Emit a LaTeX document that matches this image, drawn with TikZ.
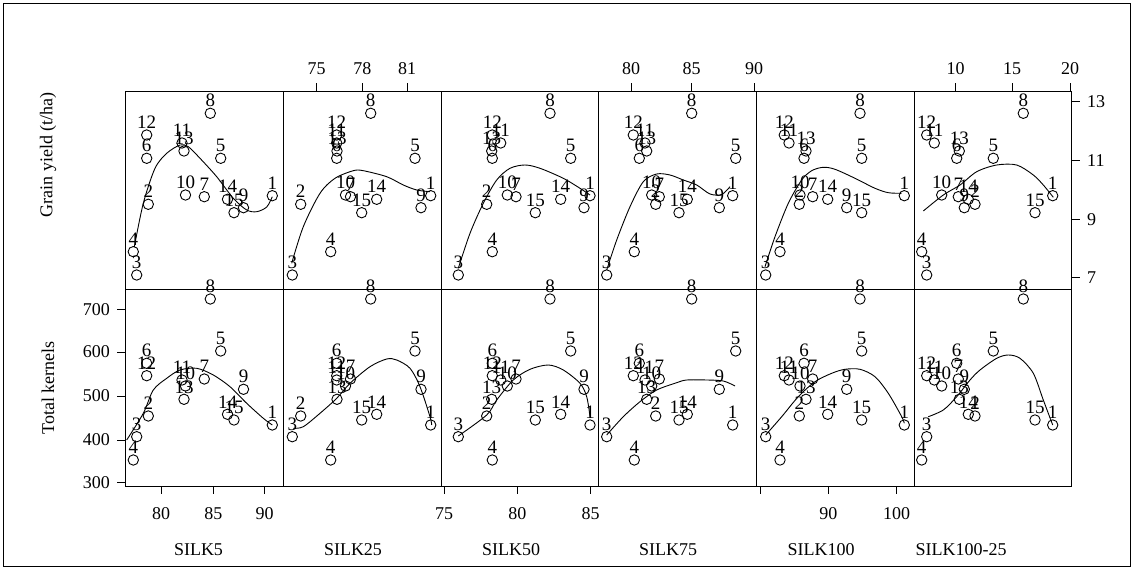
\documentclass[tikz,border=0pt]{standalone}
\usepackage{fontspec}
\setmainfont{Liberation Serif}
\newcommand\gp[9]{%
  \foreach \xx in {#2,#3,#4,#5,#6,#7}{%
    \draw[ptc] (\xx,#8) circle[radius=5.2pt];
    \draw[ptc] (\xx,#9) circle[radius=5.2pt];
    \path (\xx,#8-6.3) node[lab]{#1};
    \path (\xx,#9-6.3) node[lab]{#1};
  }}
\begin{document}
\begin{tikzpicture}[x=1pt,y=-1pt,
  ptc/.style={line width=0.9pt},
  lab/.style={font=\fontsize{19}{19}\selectfont, anchor=base, inner sep=0pt},
  axl/.style={font=\fontsize{18}{18}\selectfont, inner sep=0pt},
  frame/.style={line width=0.9pt},
  fit/.style={line width=0.9pt}]
\useasboundingbox (0,0) rectangle (1133,569);
\draw[line width=0.7pt] (3,3) rectangle (1130,566);
% panels
\foreach \a/\b in {125.5/283,283/441,441/598.5,598.5/756.5,756.5/914,914/1071.5}{
  \draw[frame] (\a,91) rectangle (\b,289);
  \draw[frame] (\a,289) rectangle (\b,486);
}
% points: label, x1..x6, yTop, yBottom
\gp{1}{272.3}{430.7}{590}{732.7}{904.3}{1052.7}{195.7}{425}
\gp{2}{148.3}{300.7}{486.7}{655.7}{799.3}{975}{204.3}{416}
\gp{3}{136.7}{292.3}{458.3}{606.7}{765.7}{926.7}{275}{436.7}
\gp{4}{133.3}{330.7}{492.3}{634.3}{780}{921.7}{251.7}{460}
\gp{5}{220.7}{415}{570.7}{735.7}{861.7}{993.3}{158.3}{351}
\gp{6}{146.7}{336.7}{492.3}{639.3}{804}{956.7}{158.3}{363.3}
\gp{7}{204.3}{350.5}{516}{659.3}{812.7}{958.3}{196.7}{379}
\gp{8}{210.3}{370.7}{550}{691.7}{860}{1023.3}{113.3}{299}
\gp{9}{243.5}{421}{584}{719.3}{846.7}{964.3}{207.7}{389.3}
\gp{10}{185.5}{345.5}{507.3}{651.7}{800}{941.7}{195}{386}
\gp{11}{182}{336.7}{500.7}{645}{789}{934.3}{143}{380}
\gp{12}{146.7}{336.7}{492.3}{633.3}{784.3}{926.7}{135}{375.7}
\gp{13}{184}{337}{491.7}{646.7}{806}{959.3}{151}{399.3}
\gp{14}{227.5}{376.7}{560.7}{687.3}{827.7}{968.3}{199.3}{414.3}
\gp{15}{234}{361.7}{535.3}{679}{861.7}{1035}{212.7}{420}
% fitted curves, top row
\draw[fit] plot[smooth] coordinates {(134.3,247) (143.3,203.3) (155,168.3) (166.7,153.3) (180,145) (188.3,146.7) (200,158.3) (216.7,176.7) (233.3,198.3) (246.7,210) (256.7,211.7) (266.7,207) (272.3,196.7)};
\draw[fit] plot[smooth] coordinates {(291.7,263.3) (303.3,226.7) (320,193.3) (335,178.3) (353.3,170.7) (363.3,170.7) (386.7,176.7) (403.3,185) (416.7,190) (430,191.7)};
\draw[fit] plot[smooth] coordinates {(458.3,268.3) (470,233.3) (483.3,203.3) (496.7,180) (510,168.3) (525,165) (540,168.3) (563.3,178.3) (580,188.3) (590,195)};
\draw[fit] plot[smooth] coordinates {(606.7,270) (616.7,240) (630,206.7) (643.3,181.7) (656.7,174) (670,175) (683.3,180) (696.7,185) (710,194) (721.7,194.5) (730,186.7)};
\draw[fit] plot[smooth] coordinates {(765,266.7) (775,236.7) (788.3,203.3) (801.7,180) (811.7,170.7) (823.3,167.3) (835,169.3) (855,178.3) (875,188.3) (888.3,192.7) (901.7,193.3)};
\draw[fit] plot[smooth] coordinates {(923.3,211) (943.3,195) (960,185) (976.7,171.7) (996.7,165) (1016.7,165) (1033.3,175) (1043.3,185) (1053.3,197.3)};
% fitted curves, bottom row
\draw[fit] plot[smooth] coordinates {(126.7,440) (143.3,413.3) (153.3,390) (166.7,378.3) (180,370) (196.7,368.3) (213.3,375) (230,386.7) (246.7,403.3) (263.3,418.3) (272.3,425)};
\draw[fit] plot[smooth] coordinates {(293.3,428.3) (303.3,426.7) (320,413.3) (336.7,398.3) (350,383.3) (370,366.7) (386.7,359) (396.7,360) (410,368.3) (420,386.7) (430,416.7) (431.7,425)};
\draw[fit] plot[smooth] coordinates {(458.3,436) (486.7,415) (496.7,400) (513.3,380) (530,369.3) (548.3,365) (563.3,370) (580,383.3) (586.7,396.7) (590,416.7)};
\draw[fit] plot[smooth] coordinates {(606.7,435) (623.3,416.7) (640,401.7) (656.7,390) (676.7,382.7) (686.7,380) (706.7,380) (723.3,381) (735,386)};
\draw[fit] plot[smooth] coordinates {(765.7,435) (781.7,416.7) (798.3,396.7) (815,381.7) (831.7,373.3) (845,369.3) (860,369.3) (875,376.7) (888.3,393.3) (901.7,416.7) (904.3,423.3)};
\draw[fit] plot[smooth] coordinates {(928.3,416.7) (943.3,410) (956.7,396.7) (970,380) (980,370) (996.7,358.3) (1008.3,355) (1020,358.3) (1033.3,373.3) (1043.3,400) (1052.7,425)};
% top axis
\foreach \x/\t in {316.7/75,362.3/78,407/81,631/80,691.7/85,754/90,955.7/10,1012/15,1070/20}{
  \draw[frame] (\x,91) -- (\x,83);
  \node[axl,anchor=base] at (\x,75) {\t};
}
% bottom axis
\foreach \x/\t in {161/80,213.3/85,264.7/90,444/75,517.3/80,590.7/85,760/{},828.3/90,896.7/100}{
  \draw[frame] (\x,486) -- (\x,494);
  \node[axl,anchor=base] at (\x,519) {\t};
}
% right axis
\foreach \y/\t in {101.3/13,160.3/11,219.3/9,277.7/7}{
  \draw[frame] (1071.5,\y) -- (1080,\y);
  \node[axl,anchor=west] at (1087,\y) {\t};
}
% left axis
\foreach \y/\t in {309.2/700,352/600,396/500,440/400,482.7/300}{
  \draw[frame] (125.5,\y) -- (117,\y);
  \node[axl,anchor=east] at (110,\y) {\t};
}
% variable names
\foreach \x/\t/\n in {198.5/SILK5/c1,353/SILK25/c2,511/SILK50/c3,668/SILK75/c4,821/SILK100/c5,961/SILK100-25/c6}{
  \node[axl,anchor=base] (\n) at (\x,555) {\t};
}
\node[axl,rotate=90] (gy) at (48,155) {Grain yield (t/ha)};
\node[axl,rotate=90] (tk) at (48,388) {Total kernels};
\end{tikzpicture}
\end{document}
